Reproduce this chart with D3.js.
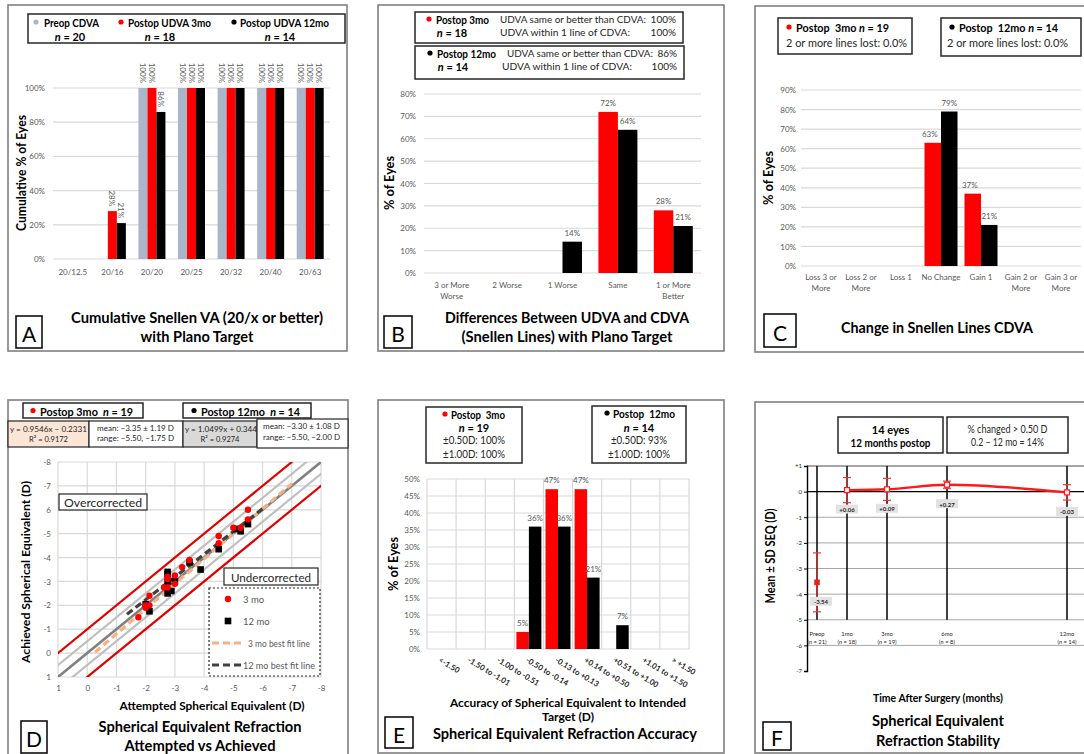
<!DOCTYPE html>
<html>
<head>
<meta charset="utf-8">
<title>Refractive outcomes</title>
<script src="https://cdn.jsdelivr.net/npm/d3@7/dist/d3.min.js"></script>
<style>
  html,body{margin:0;padding:0;background:#fff;}
  svg{display:block;}
  text{white-space:pre;}
</style>
</head>
<body>
<svg id="fig" width="1084" height="754"></svg>
<script>
// ---------- A: cumulative Snellen visual acuity ----------
const snellenCats = ["20/12.5", "20/16", "20/20", "20/25", "20/32", "20/40", "20/63"];
const cumPreopCDVA = [0, 0, 100, 100, 100, 100, 100];
const cumUDVA3mo = [0, 28, 100, 100, 100, 100, 100];
const cumUDVA12mo = [0, 21, 86, 100, 100, 100, 100];
const cumTicks = [0, 20, 40, 60, 80, 100];

// ---------- B: UDVA vs CDVA difference ----------
const diffCats = [["3 or More", "Worse"], ["2 Worse"], ["1 Worse"], ["Same"], ["1 or More", "Better"]];
const diff3mo = [0, 0, 0, 72, 28];
const diff12mo = [0, 0, 14, 64, 21];
const diffTicks = [0, 10, 20, 30, 40, 50, 60, 70, 80];

// ---------- C: change in CDVA lines ----------
const changeCats = [["Loss 3 or", "More"], ["Loss 2 or", "More"], ["Loss 1"], ["No Change"], ["Gain 1"], ["Gain 2 or", "More"], ["Gain 3 or", "More"]];
const change3mo = [0, 0, 0, 63, 37, 0, 0];
const change12mo = [0, 0, 0, 79, 21, 0, 0];
const changeTicks = [0, 10, 20, 30, 40, 50, 60, 70, 80, 90];

// ---------- D: attempted vs achieved SE ----------
const seAttempted3mo = [-5.50, -5.50, -5.25, -5.00, -4.50, -4.50, -3.50, -3.25, -3.00, -3.00, -2.75, -2.75, -2.75, -2.63, -2.13, -2.13, -2.00, -2.00, -1.75];
const seAchieved3mo  = [-6.00, -5.60, -5.25, -5.25, -4.90, -4.60, -3.90, -3.60, -3.25, -2.90, -3.20, -3.10, -2.75, -2.75, -2.40, -2.00, -1.90, -2.00, -1.50];
const seAttempted12mo = [-5.50, -5.25, -5.10, -4.50, -3.88, -3.50, -3.00, -2.88, -2.75, -2.75, -2.75, -2.75, -2.13, -2.00];
const seAchieved12mo  = [-5.40, -5.10, -5.20, -4.35, -3.50, -3.80, -3.00, -2.60, -3.40, -3.30, -3.00, -2.50, -1.75, -2.05];
// regressions of attempted (y) on achieved (x), as printed in the boxes
const fitSlope = [0.9546, 1.0499];
const fitIntercept = [-0.2331, 0.344];
const fitFrom = [-0.27, -1.36];
const fitTo = [-7.0, -6.0];
const seTicks = [1, 0, -1, -2, -3, -4, -5, -6, -7, -8];
const seTickLabelsX = ["1", "0", "-1", "-2", "-3", "-4", "-5", "-6", "-7", "-8"];
const seTickLabelsY = ["1", "0", "-1", "-2", "-3", "-4", "-5", "6", "-7", "-8"];
const refOffsets = [-1, -0.5, 0, 0.5, 1];

// ---------- E: SE accuracy ----------
const accCats = ["<-1.50", "-1.50 to -1.01", "-1.00 to -0.51", "-0.50 to -0.14", "-0.13 to +0.13", "+0.14 to +0.50", "+0.51 to +1.00", "+1.01 to +1.50", "> +1.50"];
const acc3mo = [0, 0, 0, 5, 47, 47, 0, 0, 0];
const acc12mo = [0, 0, 0, 36, 36, 21, 7, 0, 0];
const accTicks = [0, 5, 10, 15, 20, 25, 30, 35, 40, 45, 50];

// ---------- F: SE stability ----------
const visitLabels = ["Preop", "1mo", "3mo", "6mo", "12mo"];
const visitN = [21, 18, 19, 8, 14];
const visitMonth = [-0.5, 1, 3, 6, 12];
const seqMean = [-3.54, 0.06, 0.09, 0.27, -0.03];
const seqSD = [1.15, 0.49, 0.43, 0.14, 0.30];
const seqTicks = [1, 0, -1, -2, -3, -4, -5, -6, -7];

// ---------- shared styling ----------
const FONT = "Lato, 'Open Sans', 'Liberation Sans', sans-serif";
const GRAY = "#595959";
const GRID = "#d9d9d9";
const RED = "#ff0000";
const BLACK = "#000000";
const PREOP = "#a9b6c9";

const svg = d3.select("#fig");
svg.append("rect").attr("width", 1084).attr("height", 754).attr("fill", "#fff");

function txt(g, x, y, s, o = {}) {
  const t = g.append("text")
    .attr("x", x).attr("y", y)
    .attr("font-family", FONT)
    .attr("font-size", o.size || 10)
    .attr("font-weight", o.bold ? "bold" : "normal")
    .attr("font-style", o.italic ? "italic" : "normal")
    .attr("fill", o.fill || "#000")
    .attr("text-anchor", o.anchor || "start")
    .attr("dominant-baseline", "central");
  const parts = Array.isArray(s) ? s : [s];
  parts.forEach(p => {
    const sp = t.append("tspan").text(typeof p === "string" ? p : p.t);
    if (p.i) sp.attr("font-style", "italic");
  });
  if (o.width) t.attr("textLength", o.width).attr("lengthAdjust", "spacingAndGlyphs");
  if (o.rotate) t.attr("transform", `rotate(${o.rotate},${x},${y})`);
  return t;
}

function box(g, x, y, w, h, o = {}) {
  return g.append("rect").attr("x", x).attr("y", y).attr("width", w).attr("height", h)
    .attr("fill", o.fill || "#fff").attr("stroke", o.stroke || "#262626")
    .attr("stroke-width", o.sw || 1.5).attr("stroke-dasharray", o.dash || null);
}

function panelBorder(x, y, w, h) {
  svg.append("rect").attr("x", x).attr("y", y).attr("width", w).attr("height", h)
    .attr("fill", "none").attr("stroke", "#7f7f7f").attr("stroke-width", 1.6);
}

function letterBox(x, y, w, h, letter) {
  const g = svg.append("g");
  box(g, x, y, w, h, { stroke: "#000", sw: 1.5 });
  txt(g, x + w / 2, y + h / 2 + 1, letter, { size: 21, anchor: "middle" });
}

function dot(g, x, y, color, r = 2.6) {
  g.append("circle").attr("cx", x).attr("cy", y).attr("r", r).attr("fill", color);
}

function yAxisLabels(g, y, ticks, xRight, fmt, size, fill) {
  const ax = d3.axisLeft(y).tickValues(ticks).tickFormat(fmt).tickSize(0).tickPadding(0);
  const a = g.append("g").attr("transform", `translate(${xRight},0)`).call(ax);
  a.select(".domain").remove();
  a.selectAll("text").attr("font-family", FONT).attr("font-size", size).attr("fill", fill || GRAY);
  return a;
}

// grouped bar chart with percentage axis
function barChart(cfg) {
  const g = svg.append("g");
  const x = d3.scaleBand().domain(d3.range(cfg.cats.length)).range([cfg.left, cfg.right]);
  const y = d3.scaleLinear().domain([0, cfg.ymax]).range([cfg.bottom, cfg.top]);
  const sub = d3.scaleBand().domain(d3.range(cfg.series.length))
    .range([(x.bandwidth() - cfg.groupW) / 2, (x.bandwidth() + cfg.groupW) / 2]);

  if (cfg.vgrid) {
    g.append("g").selectAll("line").data(d3.range(cfg.cats.length + 1)).join("line")
      .attr("x1", i => cfg.left + i * x.bandwidth()).attr("x2", i => cfg.left + i * x.bandwidth())
      .attr("y1", cfg.top).attr("y2", cfg.bottom)
      .attr("stroke", GRID).attr("stroke-width", 1.2);
  }
  g.append("g").selectAll("line").data(cfg.ticks).join("line")
    .attr("x1", cfg.left).attr("x2", cfg.right)
    .attr("y1", d => y(d)).attr("y2", d => y(d))
    .attr("stroke", GRID).attr("stroke-width", 1.2);
  yAxisLabels(g, y, cfg.ticks, cfg.left - cfg.tickPad, d => d + "%", cfg.tickSize || 8);

  cfg.series.forEach((s, si) => {
    g.append("g").selectAll("rect").data(s.values).join("rect")
      .attr("x", (d, i) => x(i) + sub(si)).attr("width", sub.bandwidth())
      .attr("y", d => y(d)).attr("height", d => y(0) - y(d))
      .attr("fill", s.color);
    const lab = g.append("g");
    s.values.forEach((d, i) => {
      if (d <= 0) return;
      const cx = x(i) + sub(si) + sub.bandwidth() / 2 + (cfg.labelDx ? cfg.labelDx[si] : 0);
      if (cfg.rotLabels) {
        lab.append("text").attr("transform", `translate(${cx},${y(d) - 5}) rotate(90)`)
          .attr("text-anchor", "end").attr("dominant-baseline", "central")
          .attr("font-family", FONT).attr("font-size", cfg.labelSize || 8).attr("fill", GRAY)
          .text(d + "%");
      } else {
        txt(lab, cx, y(d) - 9, d + "%", { size: cfg.labelSize || 8, fill: GRAY, anchor: "middle" });
      }
    });
  });

  const cl = g.append("g");
  cfg.cats.forEach((c, i) => {
    const cx = x(i) + x.bandwidth() / 2;
    if (cfg.rotCats) {
      txt(cl, cx - 2, cfg.catY, c, { size: 7.8, bold: true, fill: "#262626", anchor: "start", rotate: 31 });
    } else {
      const lines = Array.isArray(c) ? c : [c];
      lines.forEach((ln, k) => txt(cl, cx, cfg.catY + k * cfg.catLH, ln, { size: cfg.catSize || 8, fill: GRAY, anchor: "middle" }));
    }
  });
  return { g, x, y };
}

const TS = 14.5;   // panel title size
const LS = 11;     // legend heading size

// =============================== Panel A ===============================
panelBorder(8, 5, 339, 346);
{
  const g = svg.append("g");
  box(g, 28, 14, 317, 29);
  dot(g, 36, 22, PREOP);
  txt(g, 44, 22, "Preop CDVA", { bold: true, size: LS, width: 55 });
  txt(g, 70, 36, [{ t: "n", i: 1 }, " = 20"], { bold: true, size: LS, anchor: "middle" });
  dot(g, 121, 22, RED);
  txt(g, 128, 22, "Postop UDVA 3mo", { bold: true, size: LS, width: 83 });
  txt(g, 160, 36, [{ t: "n", i: 1 }, " = 18"], { bold: true, size: LS, anchor: "middle" });
  dot(g, 234, 22, BLACK);
  txt(g, 240, 22, "Postop UDVA 12mo", { bold: true, size: LS, width: 89 });
  txt(g, 280, 36, [{ t: "n", i: 1 }, " = 14"], { bold: true, size: LS, anchor: "middle" });
}
barChart({
  cats: snellenCats, left: 53, right: 330, top: 88, bottom: 259, ymax: 100,
  ticks: cumTicks, tickPad: 8, groupW: 27, rotLabels: true,
  series: [{ values: cumPreopCDVA, color: PREOP }, { values: cumUDVA3mo, color: RED }, { values: cumUDVA12mo, color: BLACK }],
  catY: 272, catLH: 10
});
txt(svg, 21, 173, "Cumulative % of Eyes", { bold: true, size: 12.5, anchor: "middle", rotate: -90, width: 116 });
txt(svg, 197, 317, "Cumulative Snellen VA (20/x or better)", { bold: true, size: TS, anchor: "middle", width: 252 });
txt(svg, 197, 336, "with Plano Target", { bold: true, size: TS, anchor: "middle", width: 113 });
letterBox(16, 316, 26, 32, "A");

// =============================== Panel B ===============================
panelBorder(378, 5, 346, 346);
{
  const g = svg.append("g");
  box(g, 415, 12, 268, 31);
  dot(g, 429, 19, RED);
  txt(g, 436, 19, "Postop 3mo", { bold: true, size: LS, width: 53 });
  txt(g, 452, 32, [{ t: "n", i: 1 }, " = 18"], { bold: true, size: LS, anchor: "middle" });
  txt(g, 500, 19, "UDVA same or better than CDVA:", { size: 10, fill: "#262626", width: 146 });
  txt(g, 676, 19, "100%", { size: 10, fill: "#262626", anchor: "end" });
  txt(g, 500, 32, "UDVA within 1 line of CDVA:", { size: 10, fill: "#262626", width: 130 });
  txt(g, 676, 32, "100%", { size: 10, fill: "#262626", anchor: "end" });
  box(g, 415, 46, 269, 33);
  dot(g, 430, 53, BLACK);
  txt(g, 437, 53, "Postop 12mo", { bold: true, size: LS, width: 59 });
  txt(g, 453, 66, [{ t: "n", i: 1 }, " = 14"], { bold: true, size: LS, anchor: "middle" });
  txt(g, 507, 53, "UDVA same or better than CDVA:", { size: 10, fill: "#262626", width: 146 });
  txt(g, 677, 53, "86%", { size: 10, fill: "#262626", anchor: "end" });
  txt(g, 502, 66, "UDVA within 1 line of CDVA:", { size: 10, fill: "#262626", width: 130 });
  txt(g, 677, 66, "100%", { size: 10, fill: "#262626", anchor: "end" });
}
barChart({
  cats: diffCats, left: 424, right: 701, top: 94, bottom: 273, ymax: 80,
  ticks: diffTicks, tickPad: 8, groupW: 39,
  series: [{ values: diff3mo, color: RED }, { values: diff12mo, color: BLACK }],
  catY: 285, catLH: 11
});
txt(svg, 389, 183, "% of Eyes", { bold: true, size: 12.5, anchor: "middle", rotate: -90, width: 54 });
txt(svg, 567, 317, "Differences Between UDVA and CDVA", { bold: true, size: TS + 0.5, anchor: "middle", width: 244 });
txt(svg, 567, 336, "(Snellen Lines) with Plano Target", { bold: true, size: TS, anchor: "middle", width: 211 });
letterBox(384, 316, 28, 32, "B");

// =============================== Panel C ===============================
panelBorder(755, 6, 340, 346);
{
  const g = svg.append("g");
  box(g, 778, 18, 134, 36);
  dot(g, 789, 27, RED);
  txt(g, 796, 27, ["Postop  3mo ", { t: "n", i: 1 }, " = 19"], { bold: true, size: LS, width: 93 });
  txt(g, 786, 43, "2 or more lines lost: 0.0%", { size: 10.5, fill: "#262626", width: 121 });
  box(g, 941, 18, 140, 38);
  dot(g, 952, 27, BLACK);
  txt(g, 959, 27, ["Postop  12mo ", { t: "n", i: 1 }, " = 14"], { bold: true, size: LS, width: 99 });
  txt(g, 947, 43, "2 or more lines lost: 0.0%", { size: 10.5, fill: "#262626", width: 121 });
}
barChart({
  cats: changeCats, left: 801, right: 1081, top: 90, bottom: 266, ymax: 90,
  ticks: changeTicks, tickPad: 5, groupW: 33,
  series: [{ values: change3mo, color: RED }, { values: change12mo, color: BLACK }],
  catY: 277, catLH: 11, labelDx: [-3, 0]
});
txt(svg, 768, 178, "% of Eyes", { bold: true, size: 12.5, anchor: "middle", rotate: -90, width: 54 });
txt(svg, 937, 327, "Change in Snellen Lines CDVA", { bold: true, size: TS, anchor: "middle", width: 192 });
letterBox(764, 314, 32, 33, "C");

// =============================== Panel D ===============================
panelBorder(8, 400, 340, 365);
{
  const g = svg.append("g");
  box(g, 23, 403, 120, 15);
  dot(g, 33, 410.5, RED);
  txt(g, 40, 410.5, ["Postop 3mo  ", { t: "n", i: 1 }, " = 19"], { bold: true, size: LS, width: 93 });
  box(g, 183, 403, 128, 15);
  dot(g, 194, 410.5, BLACK);
  txt(g, 201, 410.5, ["Postop 12mo  ", { t: "n", i: 1 }, " = 14"], { bold: true, size: LS, width: 99 });

  box(g, 8, 421, 81, 26, { fill: "#fbe5d6", sw: 1.2 });
  txt(g, 48.5, 429, "y = 0.9546x \u2212 0.2331", { size: 7.5, fill: "#262626", anchor: "middle", width: 77 });
  txt(g, 48.5, 439, "R\u00b2 = 0.9172", { size: 7.5, fill: "#262626", anchor: "middle" });
  box(g, 89, 421, 94, 26, { sw: 1.2 });
  txt(g, 97, 428, "mean: \u22123.35 \u00b1 1.19 D", { size: 7.5, fill: "#262626", width: 77 });
  txt(g, 97, 438, "range: \u22125.50, \u22121.75 D", { size: 7.5, fill: "#262626", width: 77 });
  box(g, 183, 421, 74, 26, { fill: "#d9d9d9", sw: 1.2 });
  txt(g, 185, 429, "y = 1.0499x + 0.344", { size: 7.5, fill: "#262626", width: 72 });
  txt(g, 220, 439, "R\u00b2 = 0.9274", { size: 7.5, fill: "#262626", anchor: "middle" });
  box(g, 257, 419, 91, 29, { sw: 1.2 });
  txt(g, 263, 426, "mean: \u22123.30 \u00b1 1.08 D", { size: 7.5, fill: "#262626", width: 77 });
  txt(g, 263, 437, "range: \u22125.50, \u22122.00 D", { size: 7.5, fill: "#262626", width: 77 });

  const x = d3.scaleLinear().domain([1, -8]).range([58, 321]);
  const y = d3.scaleLinear().domain([1, -8]).range([677, 462]);

  g.append("g").selectAll("line").data(seTicks).join("line")
    .attr("x1", d => x(d)).attr("x2", d => x(d)).attr("y1", y(-8)).attr("y2", y(1))
    .attr("stroke", GRID).attr("stroke-width", 1.2);
  g.append("g").selectAll("line").data(seTicks).join("line")
    .attr("y1", d => y(d)).attr("y2", d => y(d)).attr("x1", x(1)).attr("x2", x(-8))
    .attr("stroke", GRID).attr("stroke-width", 1.2);

  const xa = g.append("g").attr("transform", `translate(0,${y(1) + 11})`)
    .call(d3.axisBottom(x).tickValues(seTicks).tickFormat((d, i) => seTickLabelsX[i]).tickSize(0).tickPadding(0));
  xa.select(".domain").remove();
  xa.selectAll("text").attr("font-family", FONT).attr("font-size", 8).attr("fill", GRAY).attr("dy", "0.32em");
  yAxisLabels(g, y, seTicks, 51, (d, i) => seTickLabelsY[i], 8);

  g.append("clipPath").attr("id", "clipD").append("rect")
    .attr("x", x(1)).attr("y", y(-8)).attr("width", x(-8) - x(1)).attr("height", y(1) - y(-8));
  const cg = g.append("g").attr("clip-path", "url(#clipD)");
  const refColor = o => Math.abs(o) === 1 ? "#e00000" : (o === 0 ? "#808080" : "#bfbfbf");
  cg.selectAll("line.ref").data(refOffsets).join("line")
    .attr("x1", x(3)).attr("y1", o => y(3 + o)).attr("x2", x(-10)).attr("y2", o => y(-10 + o))
    .attr("stroke", refColor).attr("stroke-width", o => o === 0 ? 2.6 : 2.2);

  // best-fit lines: attempted = slope * achieved + intercept, solved for achieved
  const fitColors = ["#f4b183", "#404040"];
  const achievedFrom = (k, att) => (att - fitIntercept[k]) / fitSlope[k];
  fitSlope.forEach((m, k) => {
    cg.append("line")
      .attr("x1", x(fitFrom[k])).attr("y1", y(achievedFrom(k, fitFrom[k])))
      .attr("x2", x(fitTo[k])).attr("y2", y(achievedFrom(k, fitTo[k])))
      .attr("stroke", fitColors[k]).attr("stroke-width", 3.2).attr("stroke-dasharray", "7,4");
  });

  cg.append("g").selectAll("rect").data(seAttempted12mo).join("rect")
    .attr("x", (d, i) => x(d) - 3.3).attr("y", (d, i) => y(seAchieved12mo[i]) - 3.3)
    .attr("width", 6.6).attr("height", 6.6).attr("fill", BLACK);
  cg.append("g").selectAll("circle").data(seAttempted3mo).join("circle")
    .attr("cx", d => x(d)).attr("cy", (d, i) => y(seAchieved3mo[i])).attr("r", 3.2).attr("fill", RED);

  box(g, 59, 494, 88, 16, { sw: 1.2 });
  txt(g, 103, 502, "Overcorrected", { size: 11.5, fill: "#262626", anchor: "middle", width: 78 });
  box(g, 224, 568, 94, 17, { sw: 1.2 });
  txt(g, 271, 576.5, "Undercorrected", { size: 11.5, fill: "#262626", anchor: "middle", width: 80 });

  box(g, 209, 588, 111, 88, { sw: 1.2, dash: "2,2" });
  dot(g, 228, 599, RED, 3.2);
  txt(g, 243, 599, "3 mo", { size: 9.5, fill: GRAY });
  g.append("rect").attr("x", 224.7).attr("y", 617.7).attr("width", 6.6).attr("height", 6.6).attr("fill", BLACK);
  txt(g, 243, 621, "12 mo", { size: 9.5, fill: GRAY });
  g.append("line").attr("x1", 212).attr("x2", 242).attr("y1", 643).attr("y2", 643)
    .attr("stroke", fitColors[0]).attr("stroke-width", 3.2).attr("stroke-dasharray", "7,4");
  txt(g, 248, 643, "3 mo best fit line", { size: 9.5, fill: GRAY, width: 62 });
  g.append("line").attr("x1", 212).attr("x2", 242).attr("y1", 665).attr("y2", 665)
    .attr("stroke", fitColors[1]).attr("stroke-width", 3.2).attr("stroke-dasharray", "7,4");
  txt(g, 243, 665, "12 mo best fit line", { size: 9.5, fill: GRAY, width: 72 });

  txt(svg, 212, 705, "Attempted Spherical Equivalent (D)", { bold: true, size: 12, anchor: "middle", width: 185 });
  txt(svg, 25, 572, "Achieved Spherical Equivalent (D)", { bold: true, size: 12, anchor: "middle", rotate: -90, width: 182 });
  txt(svg, 200, 726, "Spherical Equivalent Refraction", { bold: true, size: TS, anchor: "middle", width: 203 });
  txt(svg, 200, 745, "Attempted vs Achieved", { bold: true, size: TS, anchor: "middle", width: 151 });
  letterBox(21, 721, 26, 32, "D");
}

// =============================== Panel E ===============================
panelBorder(378, 400, 346, 353);
{
  const g = svg.append("g");
  box(g, 426, 407, 96, 56);
  dot(g, 445, 414, RED);
  txt(g, 451, 414, "Postop  3mo", { bold: true, size: LS, width: 54 });
  txt(g, 474, 427, [{ t: "n", i: 1 }, " = 19"], { bold: true, size: LS, anchor: "middle" });
  txt(g, 474, 440, "\u00b10.50D: 100%", { size: 10.5, fill: "#262626", anchor: "middle", width: 62 });
  txt(g, 474, 454, "\u00b11.00D: 100%", { size: 10.5, fill: "#262626", anchor: "middle", width: 62 });
  box(g, 592, 406, 94, 57);
  dot(g, 607, 413, BLACK);
  txt(g, 613, 413, "Postop  12mo", { bold: true, size: LS, width: 62 });
  txt(g, 639, 427, [{ t: "n", i: 1 }, " = 14"], { bold: true, size: LS, anchor: "middle" });
  txt(g, 639, 440, "\u00b10.50D: 93%", { size: 10.5, fill: "#262626", anchor: "middle", width: 56 });
  txt(g, 639, 454, "\u00b11.00D: 100%", { size: 10.5, fill: "#262626", anchor: "middle", width: 62 });
}
barChart({
  cats: accCats, left: 427, right: 689, top: 479, bottom: 649, ymax: 50,
  ticks: accTicks, tickPad: 7, groupW: 25, vgrid: true, rotCats: true,
  series: [{ values: acc3mo, color: RED }, { values: acc12mo, color: BLACK }],
  catY: 659
});
txt(svg, 393, 564, "% of Eyes", { bold: true, size: 12.5, anchor: "middle", rotate: -90, width: 54 });
txt(svg, 568, 702, "Accuracy of Spherical Equivalent to Intended", { bold: true, size: 12, anchor: "middle", width: 236 });
txt(svg, 568, 716, "Target (D)", { bold: true, size: 12, anchor: "middle", width: 52 });
txt(svg, 565, 733, "Spherical Equivalent Refraction Accuracy", { bold: true, size: TS, anchor: "middle", width: 264 });
letterBox(385, 717, 28, 31, "E");

// =============================== Panel F ===============================
panelBorder(755, 402, 340, 351);
{
  const g = svg.append("g");
  box(g, 838, 417, 105, 36);
  txt(g, 890.5, 429, "14 eyes", { bold: true, size: LS, anchor: "middle" });
  txt(g, 890.5, 442, "12 months postop", { bold: true, size: LS, anchor: "middle", width: 80 });
  box(g, 947, 417, 121, 36);
  txt(g, 1007.5, 429, "% changed > 0.50 D", { size: 10.5, fill: "#262626", anchor: "middle", width: 80 });
  txt(g, 1007.5, 442, "0.2 \u2013 12 mo = 14%", { size: 10.5, fill: "#262626", anchor: "middle", width: 73 });

  const x = d3.scaleLinear().domain([-1, 13]).range([807, 1087]);
  const y = d3.scaleLinear().domain([1, -7]).range([466, 671]);

  // horizontal grid
  g.append("g").selectAll("line").data(seqTicks.filter(d => d < 0 && d > -7)).join("line")
    .attr("x1", x(-1)).attr("x2", 1090).attr("y1", d => y(d)).attr("y2", d => y(d))
    .attr("stroke", "#a6a6a6").attr("stroke-width", 1);
  g.append("line").attr("x1", x(-1)).attr("x2", 1090).attr("y1", y(1)).attr("y2", y(1))
    .attr("stroke", "#a6a6a6").attr("stroke-width", 2.2);
  g.append("line").attr("x1", x(-1)).attr("x2", 1090).attr("y1", y(0)).attr("y2", y(0))
    .attr("stroke", "#000").attr("stroke-width", 1.2);
  // axis with small ticks
  const ya = g.append("g").attr("transform", `translate(${x(-1)},0)`)
    .call(d3.axisLeft(y).tickValues(seqTicks).tickFormat(d => d > 0 ? "+" + d : String(d)).tickSize(3).tickPadding(2));
  ya.select(".domain").attr("stroke", "#000").attr("stroke-width", 1.4);
  ya.selectAll(".tick line").attr("stroke", "#000");
  ya.selectAll("text").attr("font-family", FONT).attr("font-size", 6).attr("fill", "#262626");

  // visit verticals
  g.append("g").selectAll("line").data(visitMonth).join("line")
    .attr("x1", d => x(d)).attr("x2", d => x(d)).attr("y1", y(1)).attr("y2", y(-5))
    .attr("stroke", "#000").attr("stroke-width", 1.5);

  // visit labels
  visitMonth.forEach((m, i) => {
    txt(g, x(m), 633, visitLabels[i], { size: 5.8, anchor: "middle", fill: "#262626" });
    txt(g, x(m), 641, ["(", { t: "n", i: 1 }, " = " + visitN[i] + ")"], { size: 5.8, anchor: "middle", fill: "#262626" });
  });

  // error bars
  visitMonth.forEach((m, i) => {
    const cx = x(m), t = y(seqMean[i] + seqSD[i]), b = y(seqMean[i] - seqSD[i]);
    g.append("line").attr("x1", cx).attr("x2", cx).attr("y1", t).attr("y2", b).attr("stroke", "#ff3030").attr("stroke-width", 1);
    [t, b].forEach(yy => g.append("line").attr("x1", cx - 4).attr("x2", cx + 4).attr("y1", yy).attr("y2", yy)
      .attr("stroke", "#ff3030").attr("stroke-width", 1.2));
  });

  // post-operative trend
  const post = d3.range(1, visitMonth.length);
  g.append("path")
    .attr("d", d3.line().curve(d3.curveMonotoneX).x(i => x(visitMonth[i])).y(i => y(seqMean[i]))(post))
    .attr("fill", "none").attr("stroke", "#ff1a1a").attr("stroke-width", 2.4);
  post.forEach(i => g.append("rect").attr("x", x(visitMonth[i]) - 2.5).attr("y", y(seqMean[i]) - 2.5)
    .attr("width", 5).attr("height", 5).attr("fill", "#fff").attr("stroke", "#ff1a1a").attr("stroke-width", 1.2));
  g.append("rect").attr("x", x(visitMonth[0]) - 2.8).attr("y", y(seqMean[0]) - 2.8)
    .attr("width", 5.6).attr("height", 5.6).attr("fill", "#e82020");

  // value tags
  visitMonth.forEach((m, i) => {
    const cx = x(m) + (i === 0 ? 4 : 0), cy = y(seqMean[i]) + 19;
    g.append("rect").attr("x", cx - 11).attr("y", cy - 4.5).attr("width", 22).attr("height", 9)
      .attr("fill", "#e2e2e2");
    const s = (seqMean[i] > 0 ? "+" : "") + seqMean[i].toFixed(2);
    txt(g, cx, cy, s, { size: 6, bold: true, anchor: "middle", fill: "#262626" });
  });

  txt(svg, 770, 556, "Mean \u00b1 SD SEQ (D)", { bold: true, size: 12.5, anchor: "middle", rotate: -90, width: 95 });
  txt(svg, 938, 697, "Time After Surgery (months)", { bold: true, size: 12, anchor: "middle", width: 130 });
  txt(svg, 938, 720, "Spherical Equivalent", { bold: true, size: TS, anchor: "middle", width: 132 });
  txt(svg, 938, 740, "Refraction Stability", { bold: true, size: TS, anchor: "middle", width: 124 });
  letterBox(763, 722, 28, 28, "F");
}
</script>
</body>
</html>
